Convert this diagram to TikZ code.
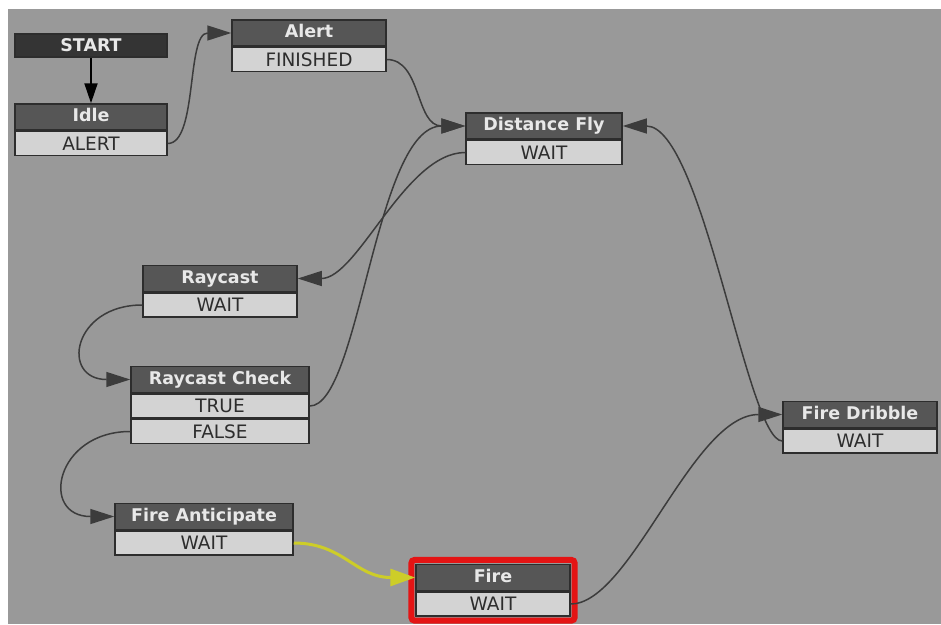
\documentclass[tikz,border=0pt]{standalone}
\usepackage{fontspec}
\newfontfamily\dvs{DejaVu Sans}
\usetikzlibrary{arrows.meta,positioning}
\definecolor{bg}{RGB}{153,153,153}
\definecolor{hdrfill}{RGB}{86,86,86}
\definecolor{bodyfill}{RGB}{211,211,211}
\definecolor{edgecol}{RGB}{60,60,60}
\definecolor{boxline}{RGB}{45,45,45}
\definecolor{startfill}{RGB}{52,52,52}
\definecolor{hdrtext}{RGB}{232,232,232}
\definecolor{bodytext}{RGB}{45,45,45}
\definecolor{yel}{RGB}{205,205,40}
\definecolor{firered}{RGB}{228,20,20}
\begin{document}
\begin{tikzpicture}[x=1pt,y=-1pt,
  box/.style={draw=boxline, line width=1.5pt, inner sep=0pt, minimum width=154pt},
  hdr/.style={box, fill=hdrfill, text=hdrtext, minimum height=26pt,
    font=\dvs\bfseries\fontsize{17.5}{19}\selectfont, text height=12.5pt, text depth=3pt},
  bodyrow/.style={box, fill=bodyfill, text=bodytext, minimum height=24pt,
    font=\dvs\fontsize{18.5}{20}\selectfont, text height=13pt, text depth=0pt},
  startbox/.style={box, fill=startfill, text=hdrtext, minimum width=152pt, minimum height=23pt,
    font=\dvs\bfseries\fontsize{17.5}{19}\selectfont, text height=12.5pt, text depth=0pt},
  conn/.style={draw=edgecol, line width=1.5pt, -{Triangle[length=24pt,width=15pt]}},
  yconn/.style={draw=yel, line width=3pt, -{Triangle[length=25pt,width=17pt]}}
]
\useasboundingbox (0,0) rectangle (941,624);
\fill[white] (0,0) rectangle (941,624);
\fill[bg] (8,9) rectangle (941,624);

% nodes
\node[startbox] (start) at (91,45.5) {START};

\node[hdr, minimum width=152pt] (idleH) at (91,117) {Idle};
\node[bodyrow, minimum width=152pt, below=0pt of idleH] (idleB) {ALERT};

\node[hdr] (alertH) at (309,33) {Alert};
\node[bodyrow, below=0pt of alertH] (alertB) {FINISHED};

\node[hdr, minimum width=156pt] (dfH) at (544,126) {Distance Fly};
\node[bodyrow, minimum width=156pt, below=0pt of dfH] (dfB) {WAIT};

\node[hdr] (rcH) at (220,278.5) {Raycast};
\node[bodyrow, below=0pt of rcH] (rcB) {WAIT};

\node[hdr, minimum width=178pt] (rccH) at (220,379.5) {Raycast Check};
\node[bodyrow, minimum width=178pt, below=0pt of rccH] (rccT) {TRUE};
\node[bodyrow, minimum width=178pt, below=0pt of rccT] (rccF) {FALSE};

\node[hdr, minimum width=178pt] (faH) at (204,516.5) {Fire Anticipate};
\node[bodyrow, minimum width=178pt, below=0pt of faH] (faB) {WAIT};

\node[hdr] (fireH) at (493,577.5) {Fire};
\node[bodyrow, below=0pt of fireH] (fireB) {WAIT};
\draw[firered, line width=6pt, rounded corners=3pt]
  ([shift={(-3.8,-3.8)}]fireH.north west) rectangle ([shift={(3.8,3.8)}]fireB.south east);

\node[hdr] (fdH) at (860,414.5) {Fire Dribble};
\node[bodyrow, below=0pt of fdH] (fdB) {WAIT};

% connectors
\draw[black, line width=2pt, -{Triangle[length=20pt,width=13pt]}] (start.south) -- (idleH.north);
\draw[conn] (idleB.east) .. controls +(30,0) and +(-45,0) .. (alertH.west);
\draw[conn] (alertB.east) .. controls +(35,0) and +(-50,0) .. (dfH.west);
\draw[conn] (dfB.west) .. controls +(-60,0) and +(60,0) .. (rcH.east);
\draw[conn] (rcB.west) .. controls +(-70,0) and +(-70,0) .. (rccH.west);
\draw[conn] (rccT.east) .. controls +(50,0) and +(-90,0) .. (dfH.west);
\draw[conn] (rccF.west) .. controls +(-75,0) and +(-75,0) .. (faH.west);
\draw[yconn] (faB.east) .. controls +(50,0) and +(-60,0) .. (fireH.west);
\draw[conn] (fireB.east) .. controls +(60,0) and +(-90,0) .. (fdH.west);
\draw[conn] (fdB.west) .. controls +(-35,0) and +(80,0) .. (dfH.east);
\end{tikzpicture}
\end{document}
